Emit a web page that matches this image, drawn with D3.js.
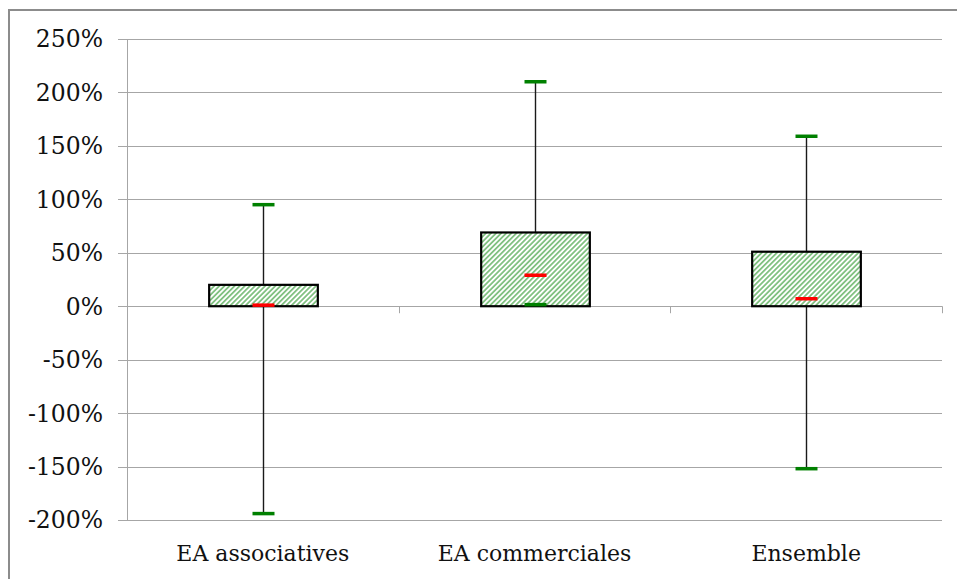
<!DOCTYPE html>
<html><head><meta charset="utf-8">
<script src="https://cdn.jsdelivr.net/npm/d3@7"></script>
<style>body{margin:0;background:#fff;} svg{display:block;}</style>
</head><body>
<svg id="chart" width="957" height="579"></svg>
<script>
const categories = ["EA associatives", "EA commerciales", "Ensemble"];
const q1Values = [0, 0, 0];
const q3Values = [20, 69, 51];
const medianValues = [1, 29, 7];
const minValues = [-194, 1.5, -152];
const maxValues = [95, 210, 159];
const yTicks = [-200, -150, -100, -50, 0, 50, 100, 150, 200, 250];

(function () {
const svg = d3.select("#chart");
const pLeft = 127, pRight = 942, pTop = 39, pBottom = 520;
const x = d3.scaleBand().domain(categories).range([pLeft, pRight]).padding(0);
const y = d3.scaleLinear().domain([-200, 250]).range([pBottom, pTop]);
const fmt = d => d + "%";
const serif = "'DejaVu Serif', 'Liberation Serif', serif";

svg.append("rect").attr("x", 9).attr("y", 10).attr("width", 1000).attr("height", 1000)
  .attr("fill", "none").attr("stroke", "#8c8c8c").attr("stroke-width", 2);

const defs = svg.append("defs");
const pat = defs.append("pattern").attr("id", "hatch").attr("patternUnits", "userSpaceOnUse")
  .attr("width", 3.6).attr("height", 3.6).attr("patternTransform", "rotate(45)");
pat.append("rect").attr("width", 3.6).attr("height", 3.6).attr("fill", "#fff");
pat.append("line").attr("x1", 0.9).attr("y1", 0).attr("x2", 0.9).attr("y2", 3.6)
  .attr("stroke", "#3a9e3a").attr("stroke-width", 1.15);

svg.append("g").selectAll("line").data(yTicks).join("line")
  .attr("x1", pLeft - 9).attr("x2", pRight)
  .attr("y1", d => Math.round(y(d)) + 0.5).attr("y2", d => Math.round(y(d)) + 0.5)
  .attr("stroke", "#a6a6a6").attr("stroke-width", 1);

svg.append("line").attr("x1", pLeft + 0.5).attr("x2", pLeft + 0.5).attr("y1", y(250)).attr("y2", y(-200))
  .attr("stroke", "#a6a6a6");

const bounds = categories.map(c => x(c) + x.bandwidth());
svg.append("g").selectAll("line").data(bounds).join("line")
  .attr("x1", d => Math.round(d) + 0.5).attr("x2", d => Math.round(d) + 0.5)
  .attr("y1", y(0)).attr("y2", y(0) + 7)
  .attr("stroke", "#a6a6a6");

svg.append("g").selectAll("text").data(yTicks).join("text")
  .attr("x", 103).attr("y", d => y(d)).attr("dy", "0.36em")
  .attr("text-anchor", "end")
  .attr("font-family", serif).attr("font-size", 23.5).attr("fill", "#111")
  .text(fmt);

svg.append("g").selectAll("text").data(categories).join("text")
  .attr("x", d => x(d) + x.bandwidth() / 2).attr("y", 561)
  .attr("text-anchor", "middle")
  .attr("font-family", serif).attr("font-size", 22).attr("fill", "#111")
  .text(d => d);

const boxW = x.bandwidth() * 0.4;
const capW = 22;
const g = svg.append("g");
categories.forEach((c, i) => {
  const cx = Math.round(x(c) + x.bandwidth() / 2) + 0.5;
  g.append("line").attr("x1", cx).attr("x2", cx)
    .attr("y1", y(minValues[i])).attr("y2", y(maxValues[i]))
    .attr("stroke", "#1a1a1a").attr("stroke-width", 1.4);
  g.append("rect").attr("x", cx - boxW / 2).attr("width", boxW)
    .attr("y", y(q3Values[i])).attr("height", y(q1Values[i]) - y(q3Values[i]))
    .attr("fill", "url(#hatch)").attr("stroke", "#000").attr("stroke-width", 2.2);
  [minValues[i], maxValues[i]].forEach(v => {
    g.append("line").attr("x1", cx - capW / 2).attr("x2", cx + capW / 2)
      .attr("y1", y(v)).attr("y2", y(v))
      .attr("stroke", "#008000").attr("stroke-width", 3.5);
  });
  g.append("line").attr("x1", cx - capW / 2).attr("x2", cx + capW / 2)
    .attr("y1", y(medianValues[i])).attr("y2", y(medianValues[i]))
    .attr("stroke", "#ff0000").attr("stroke-width", 3.5);
});
})();
</script>
</body></html>
